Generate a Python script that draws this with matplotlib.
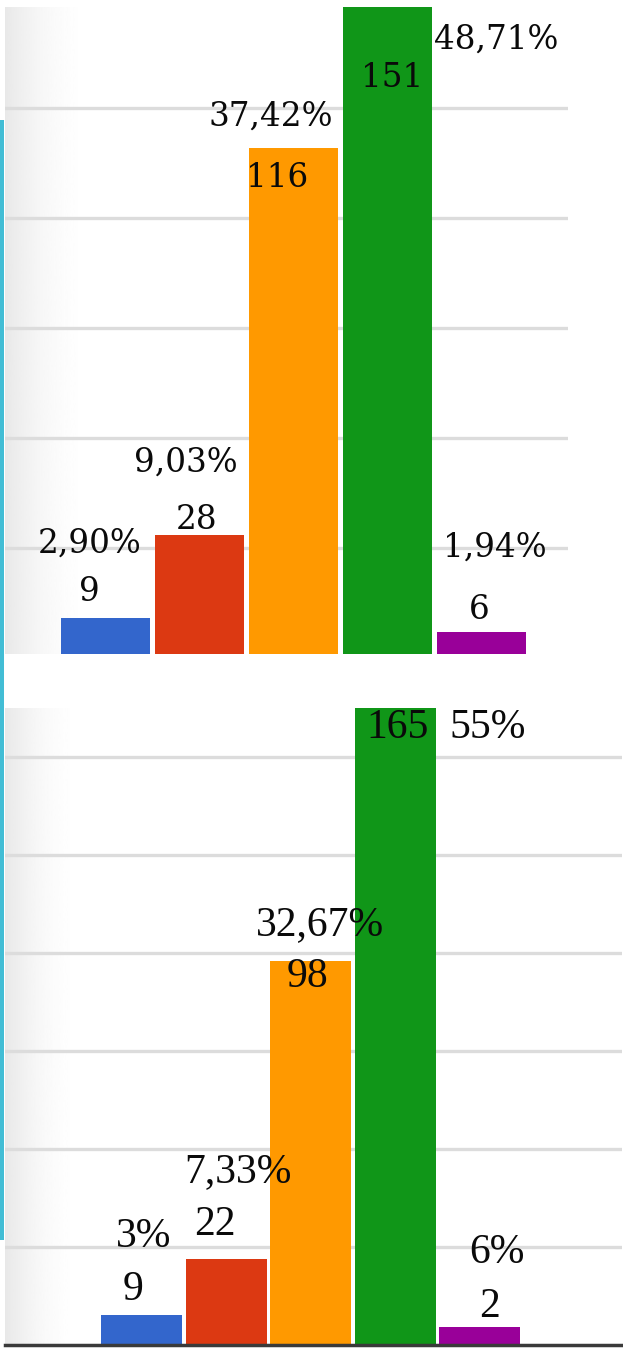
import numpy as np
import matplotlib.pyplot as plt
from matplotlib.patches import Rectangle

# Дані: верхня діаграма
counts_a = [9, 28, 116, 151, 6]
pct_a = ['2,90%', '9,03%', '37,42%', '48,71%', '1,94%']

# Дані: нижня діаграма (висоти стовпців, як на картинці)
counts_b = [9, 22, 98, 165, 2]
pct_b = ['3%', '7,33%', '32,67%', '55%', '6%']
heights_b = [7.7, 22, 98, 165, 4.6]

colors = ['#3366cc', '#dc3912', '#ff9900', '#109618', '#990099']
grid_vals = [25, 50, 75, 100, 125, 150]

# зсуви підписів у пікселях (dx, dy) від верху стовпця
cnt_off_a = [(-16, 26), (-3, 15), (-16, -30), (5, -84), (-2, 22)]
pct_off_a = [(-16, 75), (-14, 72), (-23, 31), (109, -46), (13, 84)]
cnt_off_b = [(-8, 25), (-11, 34), (-3, -16), (2, -30), (10, 20)]
pct_off_b = [(2, 78), (12, 87), (9, 36), (92, -30), (17, 74)]

W, H = 623, 1351
fig = plt.figure(figsize=(W / 100, H / 100), dpi=100)

ax1 = fig.add_axes([5 / W, (H - 654) / H, 563 / W, 647 / H])
ax2 = fig.add_axes([5 / W, (H - 1345) / H, 617 / W, (1345 - 708) / H])


def draw(ax, heights, counts, pcts, cnt_off, pct_off, width, xlim, ylim,
         font, size, grad_w):
    # м'який сірий перехід біля лівого краю
    t = np.linspace(0, 1, 200)
    grad = (1.0 - 0.09 * (1 - t) ** 2).reshape(1, -1)
    ax.imshow(grad, cmap='gray', vmin=0, vmax=1, extent=[0, grad_w, 0, 1],
              transform=ax.transAxes, aspect='auto', zorder=0)
    for v in grid_vals:
        ax.axhline(v, color='#dcdcdc', lw=2.4, zorder=0.5)
    x = np.arange(len(heights))
    ax.bar(x, heights, width=width, color=colors, zorder=2)
    for i in range(len(heights)):
        for lab, (dx, dy) in ((str(counts[i]), cnt_off[i]), (pcts[i], pct_off[i])):
            ax.annotate(lab, xy=(x[i], heights[i]), xytext=(dx * 0.72, dy * 0.72),
                        textcoords='offset points', ha='center', va='center',
                        fontsize=size, family=font, color='#0a0a0a',
                        annotation_clip=False, zorder=5)
    ax.set_xlim(*xlim)
    ax.set_ylim(*ylim)
    ax.set_xticks([])
    ax.set_yticks([])
    for s in ax.spines.values():
        s.set_visible(False)


draw(ax1, counts_a, counts_a, pct_a, cnt_off_a, pct_off_a, 0.947,
     (-1.069, 4.92), (0.9, 148), 'DejaVu Serif', 23.5, 0.16)
draw(ax2, heights_b, counts_b, pct_b, cnt_off_b, pct_off_b, 0.957,
     (-1.613, 5.68), (0, 162.5), 'Liberation Serif', 30, 0.13)

# базова лінія нижньої діаграми
ax2.axhline(0, color='#3a3a3a', lw=2.5, clip_on=False, zorder=3)

# бірюзова смуга зліва
fig.add_artist(Rectangle((0, (H - 1240) / H), 4 / W, (1240 - 120) / H,
                         transform=fig.transFigure, color='#42bdd5', lw=0))

fig.savefig('out.png', dpi=100)
